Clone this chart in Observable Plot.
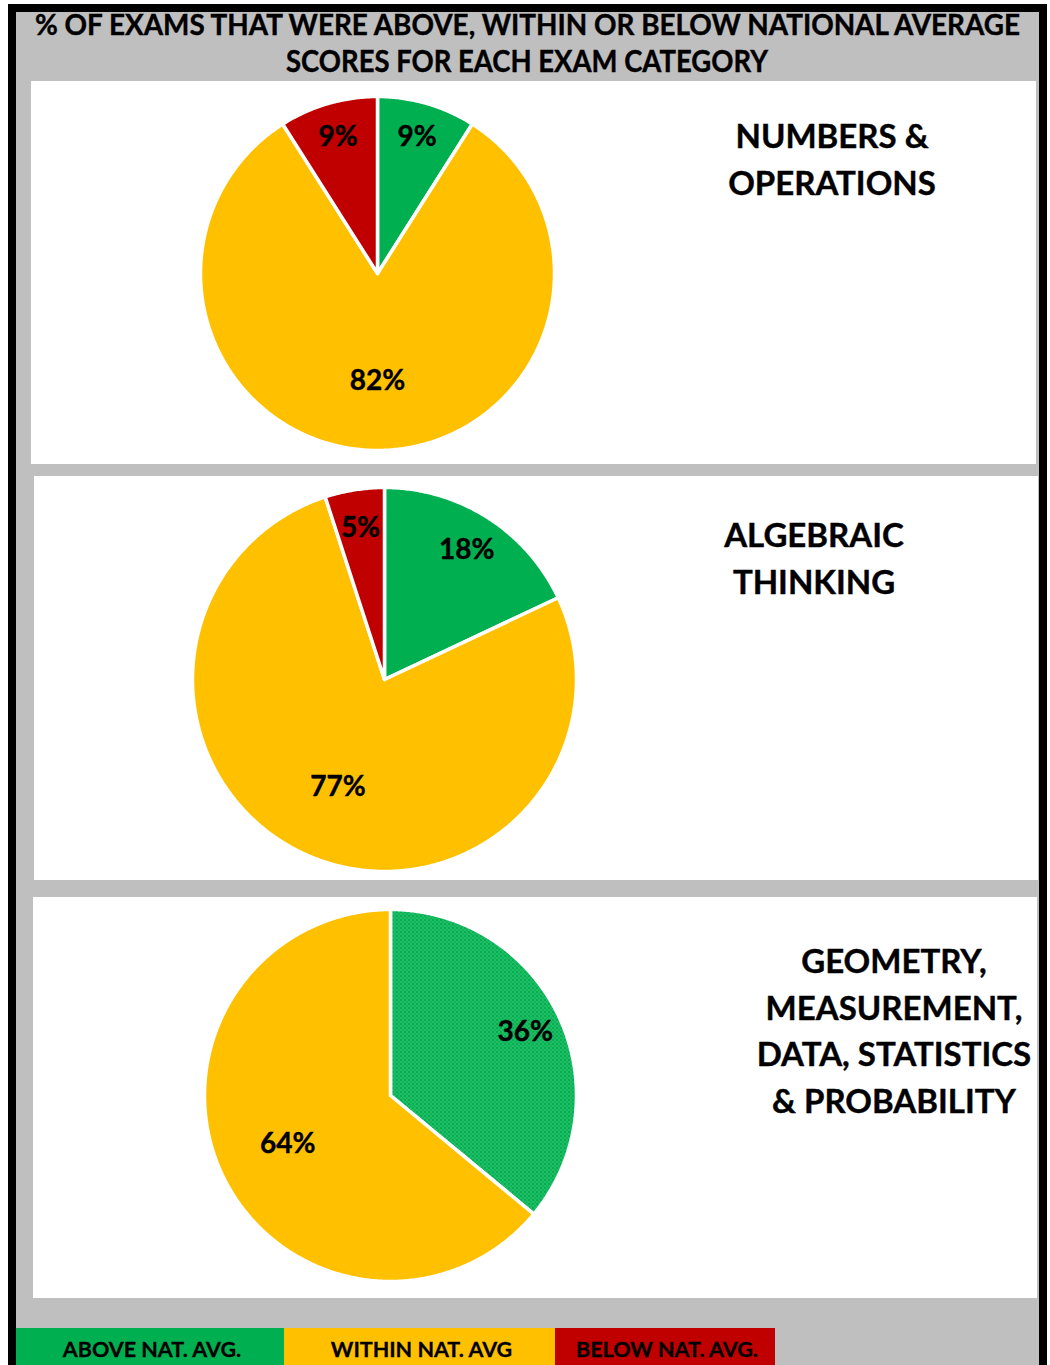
<!DOCTYPE html>
<html>
<head>
<meta charset="utf-8">
<script src="https://cdn.jsdelivr.net/npm/d3@7"></script>
<script src="https://cdn.jsdelivr.net/npm/@observablehq/plot@0.6"></script>
<style>
  html, body { margin: 0; padding: 0; background: #ffffff; }
  #page { position: relative; width: 1050px; height: 1365px; overflow: hidden; background: #ffffff; font-family: Lato, "Open Sans", sans-serif; }
  .abs { position: absolute; }
</style>
</head>
<body>
<svg width="0" height="0" style="position:absolute">
  <defs>
    <pattern id="dots" width="4" height="4" patternUnits="userSpaceOnUse">
      <rect width="4" height="4" fill="#00b050"></rect>
      <rect x="0" y="0" width="1" height="1" fill="#8adcaa"></rect>
      <rect x="2" y="2" width="1" height="1" fill="#8adcaa"></rect>
      <rect x="2" y="0" width="1" height="1" fill="#3cc474"></rect>
    </pattern>
  </defs>
</svg>
<div id="page"></div>
<script>
// ---------------- DATA ----------------
const titleLines = ["% OF EXAMS THAT WERE ABOVE, WITHIN OR BELOW NATIONAL AVERAGE", "SCORES FOR EACH EXAM CATEGORY"];
const legendCats = ["ABOVE NAT. AVG.", "WITHIN NAT. AVG", "BELOW NAT. AVG."];
const examCategories = [
  ["NUMBERS &", "OPERATIONS"],
  ["ALGEBRAIC", "THINKING"],
  ["GEOMETRY,", "MEASUREMENT,", "DATA, STATISTICS", "& PROBABILITY"]
];
const aboveValues  = [9, 18, 36];
const withinValues = [82, 77, 64];
const belowValues  = [9, 5, 0];

// ---------------- STYLE / LAYOUT ----------------
const GREEN = "#00b050", YELLOW = "#ffc000", RED = "#c00000", GRAY = "#bfbfbf";
const legendColors = [GREEN, YELLOW, RED];
const chartFills = [
  [GREEN, YELLOW, RED],
  [GREEN, YELLOW, RED],
  ["url(#dots)", YELLOW, RED]
];
const panels = [
  {left: 31, top: 81, width: 1005, height: 383},
  {left: 34, top: 476, width: 1004, height: 404},
  {left: 33, top: 897, width: 1004, height: 401}
];
const pies = [
  {cx: 377, cy: 273, r: 177},
  {cx: 384, cy: 679, r: 192},
  {cx: 390, cy: 1095, r: 186}
];
const catTitlePos = [
  {cx: 832, baseline: 148, step: 47},
  {cx: 814, baseline: 547, step: 47},
  {cx: 894, baseline: 973, step: 46.5}
];
const legendBoxes = [
  {left: 16, width: 268},
  {left: 284, width: 271},
  {left: 555, width: 220}
];

const page = document.getElementById("page");
function box(style) {
  const d = document.createElement("div");
  d.className = "abs";
  Object.assign(d.style, style);
  page.appendChild(d);
  return d;
}

// gray background
box({left: "16px", top: "8px", width: "1023px", height: "1357px", background: GRAY});

// title
const NS = "http://www.w3.org/2000/svg";
const titleSvg = document.createElementNS(NS, "svg");
titleSvg.setAttribute("width", 1050); titleSvg.setAttribute("height", 90);
titleSvg.style.position = "absolute"; titleSvg.style.left = "0px"; titleSvg.style.top = "0px";
page.appendChild(titleSvg);
function svgText(svg, str, x, y, size, opts = {}) {
  const t = document.createElementNS(NS, "text");
  t.textContent = str;
  t.setAttribute("x", x); t.setAttribute("y", y);
  t.setAttribute("text-anchor", "middle");
  t.setAttribute("font-family", "Lato, 'Open Sans', sans-serif");
  t.setAttribute("font-weight", "bold");
  t.setAttribute("font-size", size);
  t.setAttribute("fill", opts.fill || "#000");
  if (opts.stroke) { t.setAttribute("stroke", opts.stroke); t.setAttribute("stroke-width", opts.strokeWidth || 0.5); }
  if (opts.textLength) { t.setAttribute("textLength", opts.textLength); t.setAttribute("lengthAdjust", "spacingAndGlyphs"); }
  svg.appendChild(t);
  return t;
}
svgText(titleSvg, titleLines[0], 527.5, 35, 28.5, {textLength: 985, stroke: "#000", strokeWidth: 0.4});
svgText(titleSvg, titleLines[1], 527, 72, 30, {textLength: 482, stroke: "#000", strokeWidth: 0.4});

// panels
panels.forEach(p => box({left: p.left + "px", top: p.top + "px", width: p.width + "px", height: p.height + "px", background: "#fff"}));

// pies
function pieData(values, cats) {
  const total = d3.sum(values);
  let acc = 0;
  const pts = [], labels = [];
  values.forEach((v, i) => {
    if (v <= 0) return;
    const a0 = acc / total * 2 * Math.PI;
    acc += v;
    const a1 = acc / total * 2 * Math.PI;
    const n = Math.max(2, Math.ceil((a1 - a0) / (Math.PI / 360)));
    const cat = cats[i];
    pts.push({cat, x: 0, y: 0});
    for (let k = 0; k <= n; k++) {
      const a = a0 + (a1 - a0) * k / n;
      pts.push({cat, x: Math.sin(a), y: Math.cos(a)});
    }
    pts.push({cat, x: 0, y: 0});
    const share = v / total, am = (a0 + a1) / 2;
    const lr = share < 0.5 ? 0.8 : 0.61;
    labels.push({x: lr * Math.sin(am), y: lr * Math.cos(am), text: v + "%"});
  });
  return {pts, labels};
}

pies.forEach((pc, i) => {
  const vals = [aboveValues[i], withinValues[i], belowValues[i]];
  const {pts, labels} = pieData(vals, legendCats);
  const m = 4;
  const size = 2 * pc.r + 2 * m;
  const chart = Plot.plot({
    width: size, height: size,
    margin: m,
    x: {domain: [-1, 1], axis: null},
    y: {domain: [-1, 1], axis: null},
    color: {domain: legendCats, range: chartFills[i], legend: false},
    style: {background: "transparent", fontFamily: "Lato, 'Open Sans', sans-serif", overflow: "visible"},
    marks: [
      Plot.line(pts, {x: "x", y: "y", z: "cat", fill: "cat", stroke: "#ffffff", strokeWidth: 3.5, strokeLinejoin: "round", curve: "linear"}),
      Plot.text(labels, {x: "x", y: "y", text: "text", fontSize: 28, fontWeight: "bold", fill: "#000", stroke: "#000", strokeWidth: 0.4})
    ]
  });
  chart.style.position = "absolute";
  chart.style.left = (pc.cx - pc.r - m) + "px";
  chart.style.top = (pc.cy - pc.r - m) + "px";
  page.appendChild(chart);
});

// text overlay: category titles and legend labels
const txt = document.createElementNS(NS, "svg");
txt.setAttribute("width", 1050); txt.setAttribute("height", 1365);
txt.style.position = "absolute"; txt.style.left = "0px"; txt.style.top = "0px";

// legend boxes
legendBoxes.forEach((b, i) => box({left: b.left + "px", top: "1328px", width: b.width + "px", height: "37px", background: legendColors[i]}));
page.appendChild(txt);

examCategories.forEach((lines, i) => {
  const pos = catTitlePos[i];
  lines.forEach((ln, k) => svgText(txt, ln, pos.cx, pos.baseline + k * pos.step, 33, {stroke: "#000", strokeWidth: 0.4}));
});
legendCats.forEach((c, i) => {
  const b = legendBoxes[i];
  svgText(txt, c, b.left + b.width / 2 + 2, 1357, 21.5, {stroke: "#000", strokeWidth: 0.3});
});

// black frame
box({left: "8px", top: "4px", width: "8px", height: "1361px", background: "#000"});
box({left: "8px", top: "4px", width: "1039px", height: "8px", background: "#000"});
box({left: "1039px", top: "4px", width: "8px", height: "1361px", background: "#000"});
</script>
</body>
</html>
